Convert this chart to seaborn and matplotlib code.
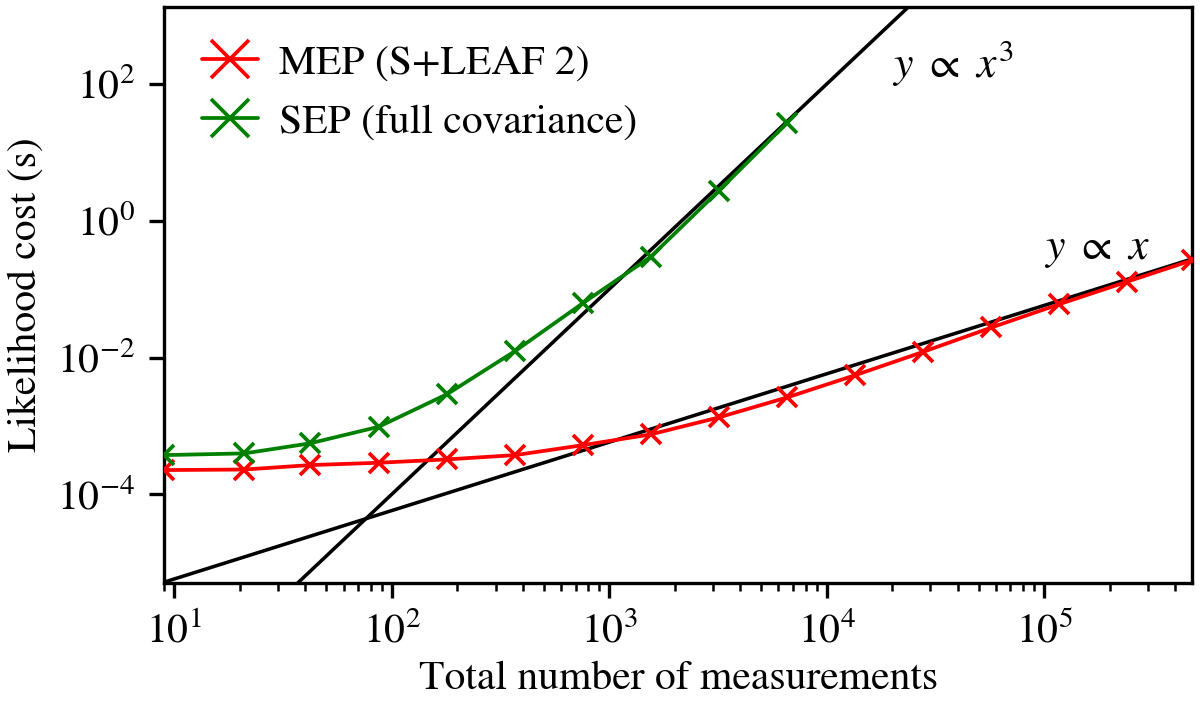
import numpy as np
import pandas as pd
import matplotlib
matplotlib.use('Agg')
import matplotlib.pyplot as plt
import seaborn as sns

# values
n_meas = [9, 21, 42, 87, 180, 370, 760, 1550, 3190, 6580,
          13500, 27800, 57300, 117000, 240000, 480000]
mep_cost = [2.26e-4, 2.3e-4, 2.67e-4, 2.89e-4, 3.24e-4, 3.74e-4, 5.24e-4, 7.5e-4,
            1.33e-3, 2.61e-3, 5.5e-3, 1.21e-2, 2.75e-2, 6.0e-2, 0.128, 0.265]
sep_cost = [3.74e-4, 3.96e-4, 5.55e-4, 9.7e-4, 2.92e-3, 1.25e-2, 0.063, 0.296, 2.74, 27.0]

# guide lines, endpoints
guide_x = [9, 480000]
lin_y = [5.2e-6, 0.277]
cub_y = [7.3e-8, 1.1e7]

mep_label = 'MEP (S+LEAF 2)'
sep_label = 'SEP (full covariance)'

sns.set_style('ticks')
plt.rcParams['font.family'] = ['STIXGeneral', 'DejaVu Serif']
plt.rcParams['mathtext.fontset'] = 'stix'
plt.rcParams['font.size'] = 10
plt.rcParams['axes.linewidth'] = 0.8
plt.rcParams['axes.edgecolor'] = 'black'
plt.rcParams['xtick.color'] = 'black'
plt.rcParams['ytick.color'] = 'black'
plt.rcParams['text.color'] = 'black'
plt.rcParams['axes.labelcolor'] = 'black'
plt.rcParams['xtick.major.width'] = 0.8
plt.rcParams['ytick.major.width'] = 0.8
plt.rcParams['xtick.minor.width'] = 0.6

df_mep = pd.DataFrame({'n': n_meas, 'cost': mep_cost})
df_sep = pd.DataFrame({'n': n_meas[:len(sep_cost)], 'cost': sep_cost})

fig, ax = plt.subplots(figsize=(4, 2.3367), dpi=300)
fig.subplots_adjust(left=0.137, right=0.9935, top=0.9904, bottom=0.168)

ax.plot(guide_x, lin_y, color='black', lw=0.85, zorder=1)
ax.plot(guide_x, cub_y, color='black', lw=0.85, zorder=1)

sns.lineplot(data=df_mep, x='n', y='cost', ax=ax, color='red', marker='x',
             markersize=5, markeredgewidth=0.9, markeredgecolor='red', lw=0.9,
             label=mep_label, zorder=3)
sns.lineplot(data=df_sep, x='n', y='cost', ax=ax, color='green', marker='x',
             markersize=5, markeredgewidth=0.9, markeredgecolor='green', lw=0.9,
             label=sep_label, zorder=3)

ax.set_xscale('log')
ax.set_yscale('log')
ax.set_xlim(9, 480000)
ax.set_ylim(5e-6, 1.35e3)
ax.yaxis.set_minor_locator(matplotlib.ticker.NullLocator())

ax.text(2e4, 125, r'$y\ \propto\ x^3$', ha='left', va='baseline', fontsize=10.5)
ax.text(1.0e5, 0.28, r'$y\ \propto\ x$', ha='left', va='baseline', fontsize=10.5)

ax.set_xlabel('Total number of measurements', labelpad=2)
ax.set_ylabel('Likelihood cost (s)', labelpad=3)

ax.legend(loc='upper left', frameon=False, handlelength=1.35, handletextpad=0.5,
          markerscale=1.8)

fig.savefig('out.png', dpi=300)
